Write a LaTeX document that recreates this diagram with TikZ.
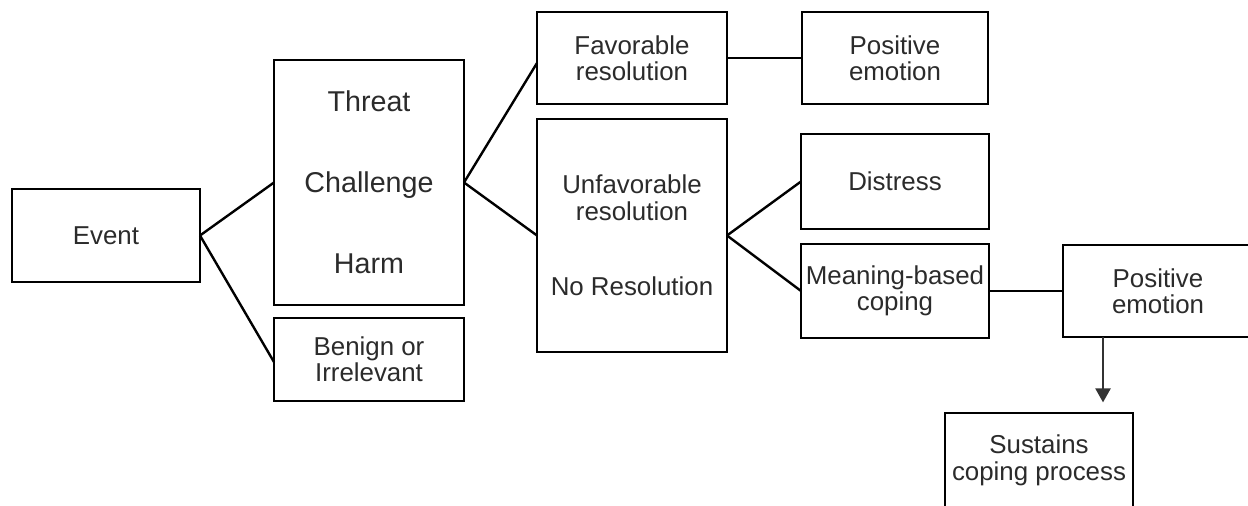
\documentclass[tikz,border=0pt]{standalone}
\usepackage{fontspec}
\setmainfont{Liberation Sans}
\usetikzlibrary{arrows.meta}
\definecolor{ink}{HTML}{2B2B2B}
\tikzset{
  box/.style 2 args={draw=black, line width=2.2pt, inner sep=0pt, outer sep=0pt,
    minimum width=#1*0.75pt, minimum height=#2*0.75pt, align=center,
    text=ink, font=\fontsize{19.4pt}{19.8pt}\selectfont},
  link/.style={draw=black, line width=1.8pt},
  arr/.style={draw=black!80, line width=1.1pt,
    -{Triangle[width=11.5pt, length=10.5pt]}, shorten >=8pt}
}
\begin{document}
\begin{tikzpicture}[x=0.75pt, y=-0.75pt]
  \useasboundingbox (0,0) rectangle (1248,506);
  \clip (0,0) rectangle (1248,506);

  % boxes
  \node[box={188}{93}]  (event)  at (106,235.5) {Event};
  \node[box={190}{245}, font=\fontsize{21.5pt}{60.75pt}\selectfont]
                        (threat) at (369,182.5) {Threat\\Challenge\\Harm};
  \node[box={190}{83}]  (benign) at (369,359.5) {Benign or\\Irrelevant};
  \node[box={190}{92}]  (fav)    at (632,58)    {Favorable\\resolution};
  \node[box={186}{92}]  (pos1)   at (895,58)    {Positive\\emotion};
  \node[box={190}{233}] (unf)    at (632,235.5) {Unfavorable\\resolution\\[37pt]No Resolution};
  \node[box={188}{95}]  (dis)    at (895,181.5) {Distress};
  \node[box={188}{94}]  (mean)   at (895,291)   {Meaning-based\\coping};
  \node[box={190}{92}]  (pos2)   at (1158,291)  {Positive\\emotion};
  \node[box={188}{95}]  (sus)    at (1039,460.5) {Sustains\\coping process};

  % connectors
  \draw[link] (event.east) -- (threat.west);
  \draw[link] (event.east) -- ([yshift=-1.9pt]benign.west);
  \draw[link] (threat.east) -- ([yshift=-3.75pt]fav.west);
  \draw[link] (threat.east) -- (unf.west);
  \draw[link] (fav.east) -- (pos1.west);
  \draw[link] (unf.east) -- (dis.west);
  \draw[link] (unf.east) -- (mean.west);
  \draw[link] (mean.east) -- (pos2.west);
  \draw[arr] (pos2.south -| 1103,0) -- (sus.north -| 1103,0);
\end{tikzpicture}
\end{document}
